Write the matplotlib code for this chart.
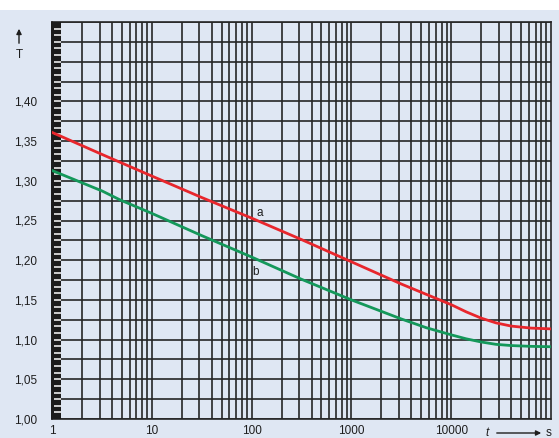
import numpy as np
import matplotlib
matplotlib.use("Agg")
import matplotlib.pyplot as plt
from matplotlib.patches import Rectangle

# curve a (red) and b (green): time in s, T
t_a = [1, 3.2, 10, 31.6, 100, 316, 1000, 3162, 10000, 14100, 20000, 28200,
       40000, 63000, 100000]
T_a = [1.361, 1.333, 1.306, 1.279, 1.253, 1.226, 1.198, 1.170, 1.144, 1.135,
       1.127, 1.121, 1.117, 1.1145, 1.1135]

t_b = [1, 3.2, 4.8, 10, 31.6, 100, 316, 1000, 3162, 5620, 10000, 14100, 20000,
       28200, 40000, 63000, 100000]
T_b = [1.313, 1.287, 1.276, 1.259, 1.231, 1.204, 1.176, 1.150, 1.126, 1.115,
       1.106, 1.101, 1.097, 1.094, 1.0925, 1.0915, 1.091]

y_ticks = [1.00, 1.05, 1.10, 1.15, 1.20, 1.25, 1.30, 1.35, 1.40]
y_labels = ["1,00", "1,05", "1,10", "1,15", "1,20", "1,25", "1,30", "1,35", "1,40"]
x_ticks = [1, 10, 100, 1000, 10000]
x_labels = ["1", "10", "100", "1000", "10000"]

bg = "#dfe7f3"
grid_col = "#262626"
txt_col = "#1e1e1e"
plt.rcParams['font.family'] = ['Liberation Sans', 'DejaVu Sans']

fig = plt.figure(figsize=(5.59, 4.38), dpi=100, facecolor=bg)
# white strip along the top edge
fig.patches.append(Rectangle((0, 1 - 10 / 438), 1, 10 / 438, transform=fig.transFigure,
                             facecolor="white", edgecolor="none", zorder=0))

ax = fig.add_axes([52 / 559, 19 / 438, 499 / 559, 397 / 438])
ax.set_facecolor(bg)
ax.set_xscale("log")
ax.set_xlim(1, 1e5)
ax.set_ylim(1.0, 1.5)

# grid: every 1..9 per decade, every 0.025 in T
for dec in range(5):
    for m in range(1, 10):
        ax.axvline(m * 10 ** dec, color=grid_col, lw=1.2, zorder=1)
for y in np.arange(1.0, 1.5001, 0.025):
    ax.axhline(y, color=grid_col, lw=1.2, zorder=1)
for s in ax.spines.values():
    s.set_color(grid_col)
    s.set_linewidth(1.2)

# black ruler strip on the left with white marks
ax.add_patch(Rectangle((-0.002, 0), 0.02, 1, transform=ax.transAxes,
                       facecolor="#1c1c1c", edgecolor="none", zorder=3, clip_on=False))
marks = np.arange(1.0, 1.5001, 0.025 / 3)
ax.hlines(marks[1:-1], 0.004, 0.018, transform=ax.get_yaxis_transform(),
          color="white", lw=1.1, zorder=4)

ax.plot(t_a, T_a, color="#e8262c", lw=2.0, zorder=5, solid_joinstyle="round")
ax.plot(t_b, T_b, color="#14985a", lw=2.0, zorder=5, solid_joinstyle="round")
ax.text(120, 1.259, "a", fontsize=8.5, ha="center", va="center", color=txt_col, zorder=6)
ax.text(110, 1.185, "b", fontsize=8.5, ha="center", va="center", color=txt_col, zorder=6)

ax.set_yticks(y_ticks)
ax.set_yticklabels(y_labels)
ax.set_xticks(x_ticks)
ax.set_xticklabels(x_labels)
ax.xaxis.set_minor_locator(matplotlib.ticker.NullLocator())
ax.tick_params(axis="both", length=0, labelsize=8.5, colors=txt_col)
ax.tick_params(axis="y", pad=11)
ax.tick_params(axis="x", pad=4)

# axis titles with arrows
fig.text(19 / 559, 1 - 55 / 438, "T", fontsize=8.5, ha="center", va="center", color=txt_col)
fig.patches.append(matplotlib.patches.FancyArrowPatch(
    (19 / 559, 1 - 46 / 438), (19 / 559, 1 - 26 / 438), transform=fig.transFigure,
    arrowstyle="-|>,head_length=3,head_width=1.5", color=txt_col, lw=1.0))
fig.text(487 / 559, 1 - 433 / 438, "t", fontsize=8.5, style="italic", ha="center",
         va="center", color=txt_col)
fig.patches.append(matplotlib.patches.FancyArrowPatch(
    (494 / 559, 1 - 433 / 438), (544 / 559, 1 - 433 / 438), transform=fig.transFigure,
    arrowstyle="-|>,head_length=3,head_width=1.5", color=txt_col, lw=1.0))
fig.text(549 / 559, 1 - 433 / 438, "s", fontsize=8.5, ha="center", va="center", color=txt_col)

fig.savefig("out.png", dpi=100, facecolor=bg)
